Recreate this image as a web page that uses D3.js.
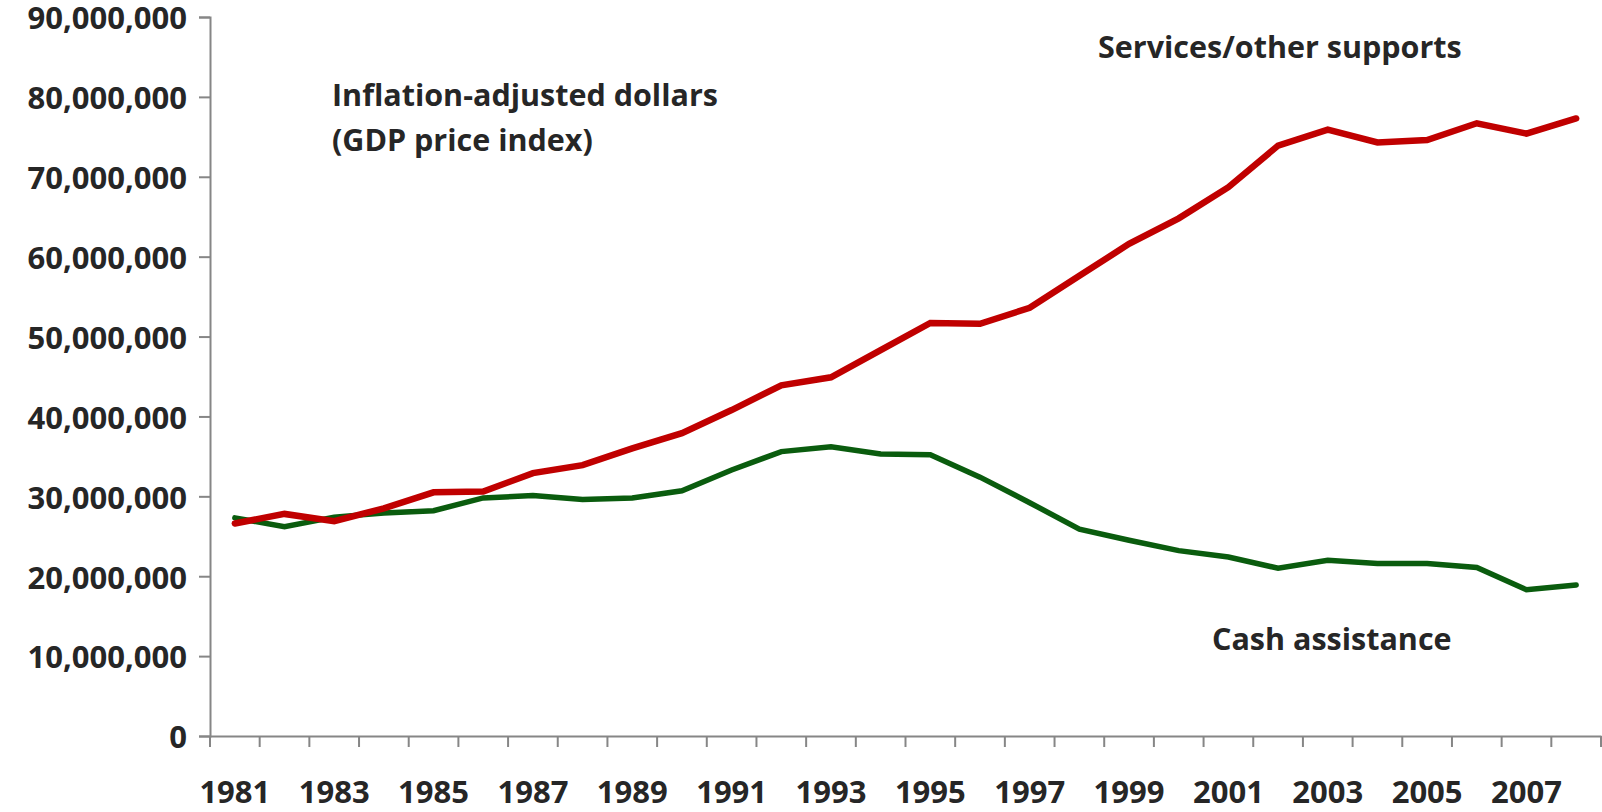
<!DOCTYPE html>
<html>
<head>
<meta charset="utf-8">
<script src="https://cdn.jsdelivr.net/npm/d3@7"></script>
<style>
  body { margin: 0; background: #fff; }
  text { font-family: "Open Sans", sans-serif; font-weight: bold; fill: #262626; }
</style>
</head>
<body>
<div id="chart"></div>
<script>
// data
const years = d3.range(1981, 2009);
const services = [26.6, 27.8, 26.9, 28.5, 30.5, 30.6, 32.9, 33.9, 36.0, 37.9, 40.8, 43.9, 44.9, 48.3,
    51.7, 51.6, 53.6, 57.6, 61.6, 64.8, 68.7, 73.9, 75.9, 74.3, 74.6, 76.7, 75.4, 77.3];
const cash = [27.3, 26.2, 27.4, 27.9, 28.2, 29.8, 30.1, 29.6, 29.8, 30.7, 33.3, 35.6, 36.2, 35.3,
    35.2, 32.4, 29.2, 25.9, 24.5, 23.2, 22.4, 21.0, 22.0, 21.6, 21.6, 21.1, 18.3, 18.9];
const yTicks = [0, 10, 20, 30, 40, 50, 60, 70, 80, 90];
const yearLabels = [1981, 1983, 1985, 1987, 1989, 1991, 1993, 1995, 1997, 1999, 2001, 2003, 2005, 2007];

const width = 1602, height = 812;
const margin = { top: 17, right: 1, bottom: 76, left: 210 };

const svg = d3.select("#chart").append("svg")
    .attr("width", width)
    .attr("height", height);

const x = d3.scaleBand()
    .domain(years)
    .range([margin.left, width - margin.right]);

const y = d3.scaleLinear()
    .domain([0, 90])
    .range([height - margin.bottom, margin.top]);

const fmt = d3.format(",");

// y axis
const yAxis = svg.append("g")
    .attr("transform", "translate(" + margin.left + ",0)")
    .call(d3.axisLeft(y).tickValues(yTicks).tickSize(11).tickPadding(12)
        .tickFormat(d => fmt(d * 1e6)));

// x axis, ticks between categories
const xAxis = svg.append("g")
    .attr("transform", "translate(0," + y(0) + ")")
    .call(d3.axisBottom(x).tickSize(0).tickFormat(d => yearLabels.includes(d) ? d : ""));

xAxis.selectAll(".sep")
    .data(d3.range(years.length + 1))
    .enter().append("line")
    .attr("class", "sep")
    .attr("x1", i => margin.left + i * x.step())
    .attr("x2", i => margin.left + i * x.step())
    .attr("y1", 0)
    .attr("y2", 11);

svg.selectAll(".domain, .tick line, .sep")
    .attr("stroke", "#868686")
    .attr("stroke-width", 2);

yAxis.selectAll("text").style("font-size", "31px").attr("dy", "0.38em");
xAxis.selectAll("text").style("font-size", "31px").attr("dy", "0").attr("y", 67);

// lines
const line = d3.line()
    .x((d, i) => x(years[i]) + x.bandwidth() / 2)
    .y(d => y(d));

svg.append("path")
    .datum(cash)
    .attr("fill", "none")
    .attr("stroke", "#0a5c0e")
    .attr("stroke-width", 5.5)
    .attr("stroke-linecap", "round")
    .attr("d", line);

svg.append("path")
    .datum(services)
    .attr("fill", "none")
    .attr("stroke", "#c00000")
    .attr("stroke-width", 6.5)
    .attr("stroke-linecap", "round")
    .attr("d", line);

// annotations
const notes = [
    { t: "Inflation-adjusted dollars", x: 332, y: 106 },
    { t: "(GDP price index)", x: 332, y: 151 },
    { t: "Services/other supports", x: 1098, y: 58 },
    { t: "Cash assistance", x: 1212, y: 650 }
];
svg.selectAll(".note")
    .data(notes)
    .enter().append("text")
    .attr("class", "note")
    .attr("x", d => d.x)
    .attr("y", d => d.y)
    .style("font-size", "30.5px")
    .text(d => d.t);
</script>
</body>
</html>
